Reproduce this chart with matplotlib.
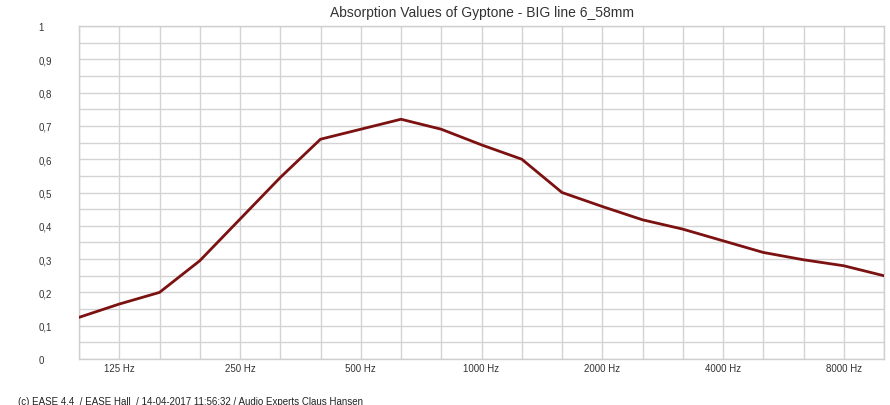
import matplotlib
matplotlib.use("Agg")
import matplotlib.pyplot as plt
import numpy as np

# third-octave bands, 100 Hz .. 10 kHz
freqs = [100, 125, 160, 200, 250, 315, 400, 500, 630, 800, 1000,
         1250, 1600, 2000, 2500, 3150, 4000, 5000, 6300, 8000, 10000]
alpha = [0.125, 0.165, 0.20, 0.295, 0.42, 0.545, 0.66, 0.69, 0.72, 0.69, 0.643,
         0.60, 0.50, 0.458, 0.418, 0.39, 0.355, 0.32, 0.298, 0.28, 0.25]
octave_labels = {125: "125 Hz", 250: "250 Hz", 500: "500 Hz", 1000: "1000 Hz",
                 2000: "2000 Hz", 4000: "4000 Hz", 8000: "8000 Hz"}
y_ticks = [0, 0.1, 0.2, 0.3, 0.4, 0.5, 0.6, 0.7, 0.8, 0.9, 1.0]

plt.rcParams["font.family"] = ["Liberation Sans", "DejaVu Sans"]

fig = plt.figure(figsize=(8.9, 4.06), dpi=100)
ax = fig.add_axes([79 / 890, 1 - 360 / 406, (884 - 79) / 890, (360 - 27) / 406])

pos = np.arange(len(freqs))
ax.plot(pos, alpha, color="#7b1111", lw=2.0, solid_joinstyle="miter", zorder=3)

ax.set_xlim(0, len(freqs) - 1)
ax.set_ylim(0, 1)

ax.set_xticks(pos)
ax.set_xticklabels([octave_labels.get(f, "") for f in freqs], fontsize=7, color="#333333")
ax.set_yticks(y_ticks)
ax.set_yticklabels([("%g" % v).replace(".", ",") for v in y_ticks], fontsize=7,
                   color="#333333", ha="left")
ax.set_yticks(np.arange(0.05, 1.0, 0.1), minor=True)
ax.tick_params(axis="both", which="both", length=0)
ax.tick_params(axis="y", pad=29)
ax.tick_params(axis="x", pad=3)

ax.grid(True, which="both", color="#d3d3d3", lw=1.0, zorder=0)
for s in ax.spines.values():
    s.set_color("#cfcfcf")
    s.set_linewidth(1.0)

ax.set_title("Absorption Values of Gyptone - BIG line 6_58mm", fontsize=10,
             color="#333333", pad=7)

fig.text(18 / 890, 1 - 402 / 406,
         "(c) EASE 4.4  / EASE Hall  / 14-04-2017 11:56:32 / Audio Experts Claus Hansen",
         fontsize=7, color="#222222", va="center", ha="left")

fig.savefig("out.png", dpi=100)
